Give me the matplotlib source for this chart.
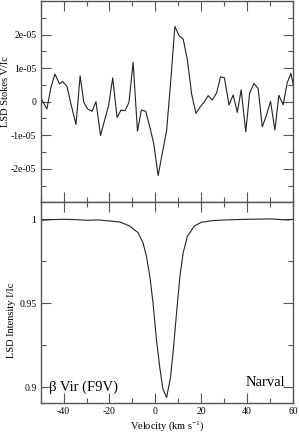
import matplotlib
matplotlib.use("Agg")
import matplotlib.pyplot as plt
from matplotlib.ticker import MultipleLocator, FixedLocator, FixedFormatter

# ............................................................................ #
# data

# Stokes V profile (velocity in km/s, V/Ic in units of 1e-5)
v_stokes = [-50.1, -49.1, -47.3, -45.5, -43.8, -41.8, -40.4, -38.5, -36.8, -34.6,
            -32.8, -31.2, -29.5, -27.6, -25.9, -23.9, -22.2, -20.4, -18.6, -16.7,
            -15.0, -13.2, -11.5,  -9.7,  -7.8,  -6.1,  -4.2,  -2.4,  -0.7,   1.2,
              3.1,   4.9,   6.6,   8.5,  10.4,  12.1,  13.9,  15.8,  17.7,  19.4,
             21.2,  23.0,  24.8,  26.7,  28.4,  30.1,  32.1,  33.9,  35.7,  37.4,
             39.4,  41.1,  43.0,  44.8,  46.6,  48.4,  50.2,  52.1,  53.8,  55.7,
             57.5,  59.1,  60.1]
stokes_v = [ 0.15,  0.01, -0.22,  0.43,  0.82,  0.53,  0.60,  0.45, -0.07, -0.68,
             0.77, -0.02, -0.22, -0.29,  0.00, -1.01, -0.57, -0.12,  0.71, -0.47,
            -0.25, -0.27, -0.02,  1.17, -0.88, -0.25, -0.29, -0.76, -1.26, -2.20,
            -1.51, -0.86,  0.53,  2.24,  1.96,  1.87,  1.27,  0.23, -0.35, -0.17,
            -0.02,  0.18,  0.05,  0.26,  0.74,  0.71, -0.10,  0.20, -0.32,  0.35,
            -0.90,  0.26,  0.54,  0.39, -0.75, -0.41,  0.01, -0.85,  0.19, -0.09,
             0.57,  0.84,  0.50]

# intensity profile
v_int = [-50.0, -45.0, -40.0, -35.0, -30.0, -25.0, -20.0, -15.5, -11.2, -7.5,
          -5.4,  -3.9,  -2.4,  -1.0,   0.5,   1.9,   3.3,   4.9,   6.6,  7.8,
           9.2,  10.7,  12.1,  14.0,  17.0,  20.0,  25.0,  30.0,  40.0, 50.0,
          55.0,  58.0,  60.0]
intensity = [0.9994, 0.9998, 1.0000, 0.9998, 0.9994, 0.9996, 0.9990, 0.9984, 0.9960, 0.9920,
             0.9860, 0.9780, 0.9660, 0.9500, 0.9280, 0.9120, 0.8990, 0.8940, 0.9060, 0.9220,
             0.9440, 0.9660, 0.9800, 0.9900, 0.9960, 0.9982, 0.9992, 0.9996, 1.0000, 1.0002,
             0.9998, 0.9996, 1.0000]

stokes_ticks  = [2e-05, 1e-05, 0, -1e-05, -2e-05]
stokes_labels = ["2e-05", "1e-05", "0", "-1e-05", "-2e-05"]
int_ticks  = [1.0, 0.95, 0.9]
int_labels = ["1", "0.95", "0.9"]
x_ticks  = [-40, -20, 0, 20, 40, 60]
x_labels = ["-40", "-20", "0", "20", "40", "60"]

# ............................................................................ #

plt.rcParams["font.family"] = ["Liberation Serif", "DejaVu Serif"]
plt.rcParams["mathtext.default"] = "regular"
plt.rcParams["axes.unicode_minus"] = False

fig = plt.figure(figsize=(2.99, 4.32), dpi=100)
ax_v = fig.add_axes([0.136, 0.5317, 0.844, 0.466])
ax_i = fig.add_axes([0.136, 0.0664, 0.844, 0.4653])

line_col = "#222222"
spine_col = "#555555"

for ax in (ax_v, ax_i) :
    ax.set_xlim(-50, 60)
    ax.xaxis.set_major_locator(FixedLocator(x_ticks))
    ax.xaxis.set_minor_locator(MultipleLocator(10))
    ax.tick_params(which="both", direction="in", top=True, right=True,
                   color=spine_col, labelsize=7, pad=3)
    ax.tick_params(which="major", length=7, width=0.8)
    ax.tick_params(which="minor", length=3.5, width=0.8)
    for sp in ax.spines.values() :
        sp.set_color(spine_col)
        sp.set_linewidth(1.0)

# upper panel: Stokes V
ax_v.plot(v_stokes, [s * 1e-5 for s in stokes_v], color=line_col, lw=0.8)
ax_v.set_ylim(-3e-05, 3e-05)
ax_v.yaxis.set_major_locator(FixedLocator(stokes_ticks))
ax_v.yaxis.set_major_formatter(FixedFormatter(stokes_labels))
ax_v.yaxis.set_minor_locator(MultipleLocator(5e-06))
ax_v.tick_params(labelbottom=False)
ax_v.set_ylabel("LSD Stokes V/Ic", fontsize=7.5)
ax_v.yaxis.set_label_coords(-0.12, 0.55)

# lower panel: intensity
ax_i.plot(v_int, intensity, color=line_col, lw=0.8)
ax_i.set_ylim(0.8905, 1.0101)
ax_i.yaxis.set_major_locator(FixedLocator(int_ticks))
ax_i.yaxis.set_major_formatter(FixedFormatter(int_labels))
ax_i.yaxis.set_minor_locator(FixedLocator([0.925, 0.975]))
ax_i.xaxis.set_major_formatter(FixedFormatter(x_labels))
ax_i.set_ylabel("LSD Intensity I/Ic", fontsize=7.5)
ax_i.yaxis.set_label_coords(-0.098, 0.414)
ax_i.set_xlabel("Velocity (km s$^{-1}$)", fontsize=7.5)
ax_i.xaxis.set_label_coords(0.503, -0.078)

ax_i.text(0.033, 0.062, "\u03b2 Vir (F9V)", transform=ax_i.transAxes,
          fontsize=10.5, ha="left", va="baseline")
ax_i.text(0.968, 0.084, "Narval", transform=ax_i.transAxes,
          fontsize=10.5, ha="right", va="baseline")

fig.savefig("out.png", dpi=100)
